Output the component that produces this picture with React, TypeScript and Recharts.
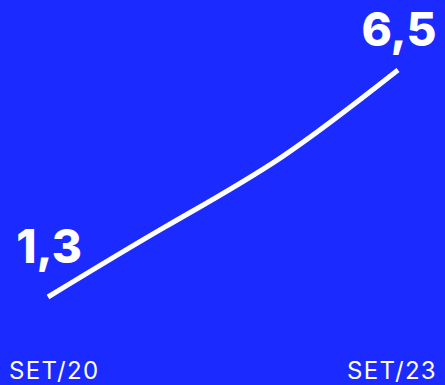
import { LineChart, Line, XAxis, YAxis, LabelList } from "recharts";

const periods = ["SET/20", "SET/21", "SET/22", "SET/23"];
const values = [1.3, 2.9, 4.5, 6.5];

const data = periods.map((period, i) => ({ period, value: values[i] }));

const BLUE = "#1b2bff";
const lastIndex = data.length - 1;

const formatValue = (v: number) => v.toFixed(1).replace(".", ",");

function EdgeTick(props: any) {
  const { x, y, payload, index } = props;
  const first = index === 0;
  const last = payload.value === periods[lastIndex];
  if (!first && !last) return null;
  return (
    <text
      x={first ? x - 39 : x + 39}
      y={y + 74}
      textAnchor={first ? "start" : "end"}
      fill="#ffffff"
      fontFamily="Inter, sans-serif"
      fontSize={24}
      fontWeight={400}
      letterSpacing={1.3}
    >
      {payload.value}
    </text>
  );
}

function EndLabel(props: any) {
  const { x, y, value, index } = props;
  if (index !== 0 && index !== lastIndex) return null;
  return (
    <text
      x={index === 0 ? x + 1 : x + 1}
      y={index === 0 ? y - 34 : y - 24}
      textAnchor="middle"
      fill="#ffffff"
      fontFamily="Inter, sans-serif"
      fontSize={46}
      fontWeight={800}
    >
      {formatValue(value)}
    </text>
  );
}

export default function App() {
  return (
    <div style={{ position: "fixed", top: 0, left: 0, width: 445, height: 385, background: BLUE }}>
      <LineChart width={445} height={385} data={data} margin={{ top: 70, right: 47, left: 48, bottom: 0 }}>
        <XAxis
          dataKey="period"
          height={88}
          axisLine={false}
          tickLine={false}
          interval={0}
          tick={<EdgeTick />}
        />
        <YAxis hide domain={[1.3, 6.5]} />
        <Line
          type="natural"
          dataKey="value"
          stroke="#ffffff"
          strokeWidth={5}
          strokeLinecap="butt"
          dot={false}
          isAnimationActive={false}
        >
          <LabelList dataKey="value" content={<EndLabel />} />
        </Line>
      </LineChart>
    </div>
  );
}
